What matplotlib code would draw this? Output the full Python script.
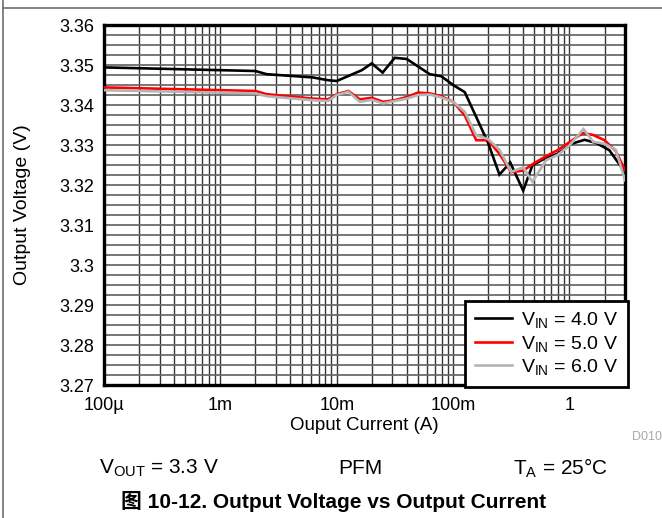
import matplotlib
matplotlib.use("Agg")
import matplotlib.pyplot as plt
from matplotlib.lines import Line2D
from matplotlib.ticker import FixedLocator, NullFormatter, MultipleLocator

plt.rcParams['font.family'] = ['Liberation Sans', 'Noto Sans CJK SC', 'DejaVu Sans']
plt.rcParams['mathtext.fontset'] = 'custom'
plt.rcParams['mathtext.rm'] = 'Liberation Sans'
plt.rcParams['mathtext.it'] = 'Liberation Sans'
plt.rcParams['mathtext.default'] = 'rm'

# ---- data ----
i_40 = [1e-4, 2e-3, 2.5e-3, 6.2e-3, 8.4e-3, 10e-3, 16.4e-3, 20e-3, 24.8e-3, 31.5e-3,
        40e-3, 63e-3, 79e-3, 0.1, 0.126, 0.158, 0.2, 0.25, 0.31, 0.4, 0.48, 0.6,
        0.79, 1.04, 1.35, 1.7, 2.2, 3.0]
v_40 = [3.3494, 3.3485, 3.3477, 3.3469, 3.3462, 3.3460, 3.3487, 3.3504, 3.3481, 3.3518,
        3.3515, 3.3477, 3.3472, 3.3450, 3.3432, 3.3370, 3.3305, 3.3226, 3.3256, 3.3186,
        3.3249, 3.3265, 3.3278, 3.3303, 3.3313, 3.3305, 3.3287, 3.3232]

i_50 = [1e-4, 2e-3, 2.5e-3, 6.2e-3, 8.4e-3, 10e-3, 12.6e-3, 15.8e-3, 20e-3, 25e-3,
        31.6e-3, 40e-3, 50e-3, 63e-3, 79e-3, 0.1, 0.126, 0.158, 0.2, 0.25, 0.316,
        0.4, 0.5, 0.63, 0.79, 1.0, 1.3, 1.6, 2.0, 2.5, 3.0]
v_50 = [3.3444, 3.3435, 3.3427, 3.3416, 3.3414, 3.3427, 3.3435, 3.3414, 3.3418, 3.3408,
        3.3412, 3.3420, 3.3431, 3.3429, 3.3422, 3.3408, 3.3374, 3.3312, 3.3312, 3.3278,
        3.3232, 3.3236, 3.3255, 3.3272, 3.3287, 3.3307, 3.3330, 3.3325, 3.3312, 3.3285,
        3.3237]

i_60 = [1e-4, 2e-3, 2.5e-3, 6.2e-3, 8.4e-3, 10e-3, 12.6e-3, 15.8e-3, 20e-3, 25e-3,
        31.6e-3, 40e-3, 50e-3, 63e-3, 79e-3, 0.1, 0.126, 0.158, 0.2, 0.25, 0.316,
        0.4, 0.48, 0.63, 0.79, 1.0, 1.32, 1.6, 2.0, 2.5, 3.0]
v_60 = [3.3437, 3.3429, 3.3422, 3.3412, 3.3410, 3.3425, 3.3433, 3.3408, 3.3413, 3.3404,
        3.3410, 3.3416, 3.3425, 3.3426, 3.3419, 3.3408, 3.3383, 3.3324, 3.3315, 3.3288,
        3.3233, 3.3244, 3.3208, 3.3262, 3.3275, 3.3299, 3.3340, 3.3308, 3.3303, 3.3288,
        3.3212]

labels = [r'V$_{\mathrm{IN}}$ = 4.0 V', r'V$_{\mathrm{IN}}$ = 5.0 V', r'V$_{\mathrm{IN}}$ = 6.0 V']
colors = ['#000000', '#ff0000', '#b4b4b4']

x_ticks = [1e-4, 1e-3, 1e-2, 1e-1, 1]
x_ticklabels = ['100µ', '1m', '10m', '100m', '1']
y_ticks = [3.27, 3.28, 3.29, 3.30, 3.31, 3.32, 3.33, 3.34, 3.35, 3.36]
y_ticklabels = ['3.27', '3.28', '3.29', '3.3', '3.31', '3.32', '3.33', '3.34', '3.35', '3.36']

# ---- figure ----
W, H = 662, 518
fig = plt.figure(figsize=(W / 100, H / 100), dpi=100)
ax = fig.add_axes([104 / W, 1 - 385 / H, (625 - 104) / W, (385 - 25) / H])

ax.set_xscale('log')
ax.set_xlim(1e-4, 3.0)
ax.set_ylim(3.27, 3.36)

for i, v, c, lab in zip([i_40, i_50, i_60], [v_40, v_50, v_60], colors, labels):
    ax.plot(i, v, color=c, lw=1.9, label=lab, solid_joinstyle='miter', zorder=3)

ax.xaxis.set_major_locator(FixedLocator(x_ticks))
ax.set_xticklabels(x_ticklabels)
minor_x = [m * 10.0 ** e for e in range(-4, 1) for m in range(2, 10)]
ax.xaxis.set_minor_locator(FixedLocator([v for v in minor_x if v < 3.0]))
ax.xaxis.set_minor_formatter(NullFormatter())
ax.yaxis.set_major_locator(FixedLocator(y_ticks))
ax.set_yticklabels(y_ticklabels)
ax.yaxis.set_minor_locator(MultipleLocator(0.0025))

ax.grid(True, which='both', axis='x', color='#333333', lw=1.0)
ax.grid(True, which='both', axis='y', color='#666666', lw=1.25)
ax.tick_params(which='both', length=0, labelsize=13)
ax.tick_params(axis='x', pad=9)
ax.tick_params(axis='y', pad=7)
for s in ax.spines.values():
    s.set_linewidth(2.4)
    s.set_color('black')

ax.set_xlabel('Ouput Current (A)', fontsize=13.5, labelpad=2)
ax.set_ylabel('Output Voltage (V)', fontsize=14)
ax.yaxis.set_label_coords((31 - 104) / (625 - 104), 0.5)

leg = ax.legend(loc='lower right', bbox_to_anchor=(628 / W, 1 - 387 / H),
                bbox_transform=fig.transFigure, fontsize=14, frameon=True,
                fancybox=False, framealpha=1, edgecolor='black',
                handlelength=1.9, handletextpad=0.5, labelspacing=0.18,
                borderpad=0.5, borderaxespad=0)
leg.get_frame().set_linewidth(2.0)
leg.set_zorder(5)

# outer frame lines
fig.add_artist(Line2D([3 / W, 1], [1 - 8 / H, 1 - 8 / H], color='#707070', lw=1.2,
                      transform=fig.transFigure))
fig.add_artist(Line2D([3 / W, 3 / W], [0, 1], color='#707070', lw=1.2,
                      transform=fig.transFigure))

fig.text(662 / W, 1 - 437 / H, 'D010', fontsize=9, color='#a8a8a8', ha='right', va='center')
fig.text(159 / W, 1 - 468 / H, r'V$_{\mathrm{OUT}}$ = 3.3 V', fontsize=15, ha='center', va='center')
fig.text(360 / W, 1 - 468 / H, 'PFM', fontsize=15, ha='center', va='center')
fig.text(560 / W, 1 - 468 / H, r'T$_{\mathrm{A}}$ = 25°C', fontsize=15, ha='center', va='center')
fig.text(334 / W, 1 - 502 / H, '图 10-12. Output Voltage vs Output Current', fontsize=15,
         fontweight='bold', ha='center', va='center')

fig.savefig('out.png', dpi=100)
